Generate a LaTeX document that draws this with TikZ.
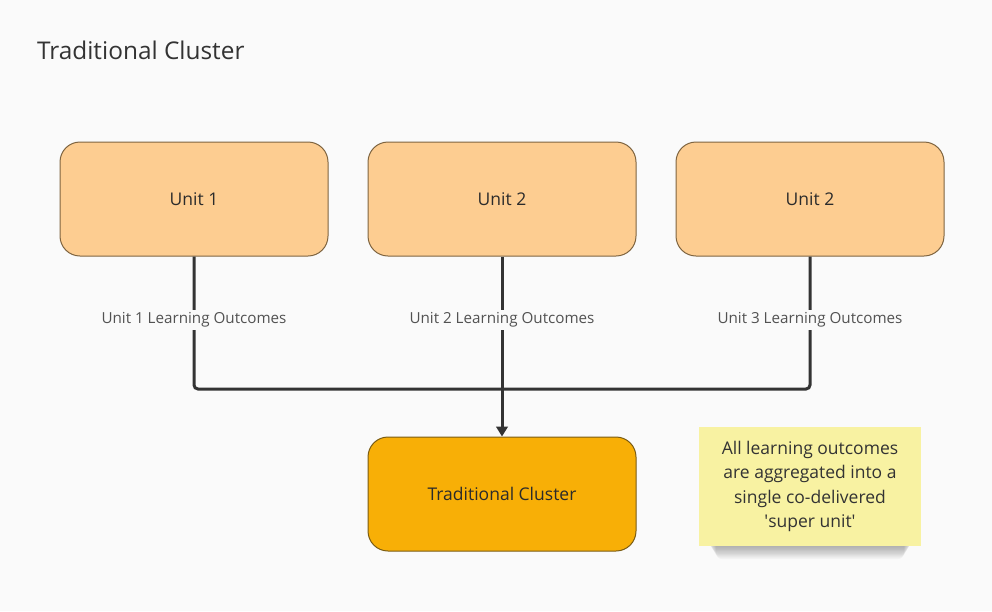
\documentclass[tikz,border=0pt]{standalone}
\usepackage{fontspec}
\setmainfont{Open Sans}
\usetikzlibrary{arrows.meta}
\definecolor{bgc}{HTML}{FAFAFA}
\definecolor{inkc}{HTML}{333333}
\definecolor{unitfill}{HTML}{FDCD91}
\definecolor{unitedge}{HTML}{7E6440}
\definecolor{clusterfill}{HTML}{F8AF06}
\definecolor{clusteredge}{HTML}{7A5C14}
\definecolor{notefill}{HTML}{F8F2A2}
\definecolor{linec}{HTML}{333333}
\tikzset{
  unitbox/.style={draw=unitedge, line width=1pt, fill=unitfill, rounded corners=20pt,
    minimum width=268pt, minimum height=114pt, inner sep=0pt,
    font=\fontsize{17.5}{21}\selectfont, text=inkc!85!black},
  clusterbox/.style={unitbox, draw=clusteredge, fill=clusterfill},
  flow/.style={draw=linec, line width=3pt, rounded corners=4pt},
  lolabel/.style={fill=bgc, inner sep=3pt, font=\fontsize{15.2}{18}\selectfont, text=inkc!85},
  note/.style={fill=notefill, minimum width=222pt, minimum height=119pt, inner sep=0pt,
    align=center, font=\fontsize{17.5}{24.5}\selectfont, text=inkc}
}
\begin{document}
\begin{tikzpicture}[x=1pt, y=-1pt]
  \fill[bgc] (0,0) rectangle (992,611);
  \useasboundingbox (0,0) rectangle (992,611);

  \node[anchor=west, font=\fontsize{24.4}{28}\selectfont, text=inkc] (title) at (33.5,50) {Traditional Cluster};

  \node[unitbox] (u1) at (194,199) {Unit 1};
  \node[unitbox] (u2) at (502,199) {Unit 2};
  \node[unitbox] (u3) at (810,199) {Unit 2};
  \node[clusterbox] (tc) at (502,494) {Traditional Cluster};

  \coordinate (m1) at (194,389);
  \coordinate (m2) at (502,389);
  \coordinate (m3) at (810,389);

  \draw[flow] (u1.south) -- (m1) -- (m3) -- (u3.south);
  \draw[flow, -{Triangle[length=10pt, width=13pt, angle'=60]}, rounded corners=0pt] (u2.south) -- (tc.north);

  \node[lolabel] (l1) at (194,320) {Unit 1 Learning Outcomes};
  \node[lolabel] (l2) at (502,320) {Unit 2 Learning Outcomes};
  \node[lolabel] (l3) at (810,320) {Unit 3 Learning Outcomes};

  % soft shadow under the sticky note, stacked translucent layers
  \foreach \k in {1,...,10}{
    \fill[black, opacity=0.03, rounded corners=6pt] (708+\k*0.8, 526+\k*0.3) rectangle (912-\k*0.8, 546+\k*1.3);
  }
  \node[note] (nt) at (810,486.5) {All learning outcomes\\are aggregated into a\\single co-delivered\\\textquotesingle super unit\textquotesingle};
\end{tikzpicture}
\end{document}
